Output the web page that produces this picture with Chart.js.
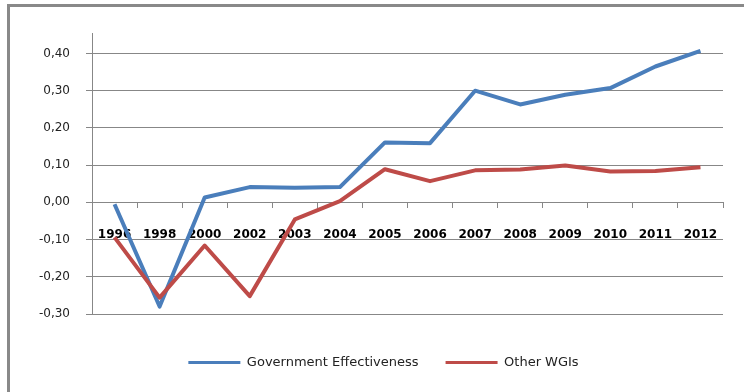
<!DOCTYPE html>
<html>
<head>
<meta charset="utf-8">
<script src="https://cdn.jsdelivr.net/npm/chart.js@4/dist/chart.umd.min.js"></script>
<style>
  html, body { margin: 0; padding: 0; background: #fff; overflow: hidden; }
  #frame { position: absolute; left: 7px; top: 4px; width: 800px; height: 500px; border: 3px solid #898989; }
  #wgiChart { position: absolute; left: 0; top: 0; }
</style>
</head>
<body>
<div id="frame"></div>
<canvas id="wgiChart" width="744" height="392"></canvas>
<script>
const years = ["1996", "1998", "2000", "2002", "2003", "2004", "2005", "2006", "2007", "2008", "2009", "2010", "2011", "2012"];
const govEffectiveness = [-0.005, -0.28, 0.013, 0.041, 0.039, 0.041, 0.161, 0.159, 0.30, 0.263, 0.289, 0.307, 0.365, 0.407];
const otherWgis = [-0.094, -0.256, -0.116, -0.252, -0.046, 0.003, 0.089, 0.057, 0.086, 0.088, 0.099, 0.083, 0.084, 0.094];
const yTickValues = [-0.3, -0.2, -0.1, 0, 0.1, 0.2, 0.3, 0.4];

const gridGrey = "#878787";

// nudge the bottom legend a little right of the canvas centre
const legendShift = {
  id: "legendShift",
  afterLayout(chart) {
    chart.legend.left += 22;
    chart.legend.right += 22;
  }
};

document.addEventListener("DOMContentLoaded", () => {
  const ctx = document.getElementById("wgiChart");

  new Chart(ctx, {
    type: "line",
    data: {
      labels: years,
      datasets: [{
        label: "Government Effectiveness",
        data: govEffectiveness,
        borderColor: "#4a7ebb",
        backgroundColor: "#4a7ebb",
        borderWidth: 4,
        pointRadius: 0,
        borderJoinStyle: "round",
        tension: 0,
        order: 1
      }, {
        label: "Other WGIs",
        data: otherWgis,
        borderColor: "#be4b48",
        backgroundColor: "#be4b48",
        borderWidth: 4,
        pointRadius: 0,
        borderJoinStyle: "round",
        tension: 0,
        order: 0
      }]
    },
    options: {
      responsive: false,
      animation: false,
      layout: { padding: { left: 0, right: 21, top: 33, bottom: 13 } },
      scales: {
        x: {
          position: { y: 0 },
          offset: true,
          grid: { drawOnChartArea: false, drawTicks: true, tickLength: 5, offset: true, color: gridGrey },
          border: { display: true, color: gridGrey, width: 1 },
          ticks: {
            padding: 20,
            color: "#000",
            font: { family: "DejaVu Sans", size: 12, weight: "bold" },
            maxRotation: 0,
            autoSkip: false
          }
        },
        y: {
          min: -0.3,
          max: 0.455,
          afterBuildTicks: scale => { scale.ticks = yTickValues.map(v => ({ value: v })); },
          afterFit: scale => { scale.width = 92; },
          grid: { color: gridGrey, lineWidth: 1, tickLength: 6 },
          border: { display: true, color: gridGrey, width: 1 },
          ticks: {
            padding: 16,
            color: "#222",
            font: { family: "DejaVu Sans", size: 12 },
            callback: v => v.toFixed(2).replace(".", ",")
          }
        }
      },
      plugins: {
        tooltip: { enabled: false },
        legend: {
          position: "bottom",
          title: { display: true, text: "", padding: 0, font: { size: 15, lineHeight: 1 } },
          labels: {
            usePointStyle: true,
            pointStyle: "line",
            pointStyleWidth: 52,
            padding: 27,
            color: "#222",
            font: { family: "DejaVu Sans", size: 13 },
            sort: (a, b) => a.datasetIndex - b.datasetIndex,
            generateLabels: chart => Chart.defaults.plugins.legend.labels.generateLabels(chart)
              .map(item => Object.assign(item, { lineWidth: 3 }))
          }
        }
      }
    },
    plugins: [legendShift]
  });
});
</script>
</body>
</html>
